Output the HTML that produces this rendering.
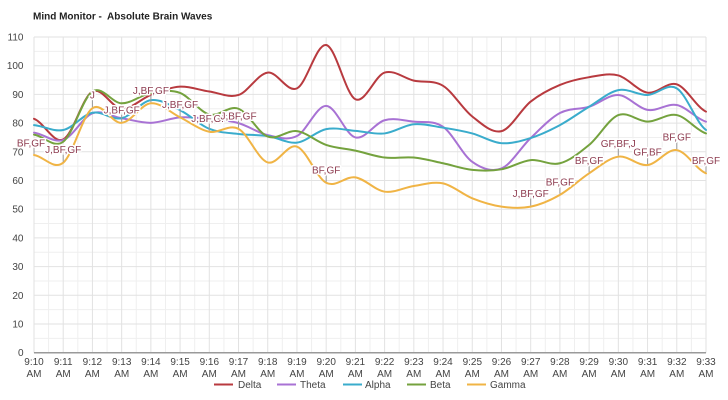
<!DOCTYPE html>
<html><head><meta charset="utf-8"><style>
html,body{margin:0;padding:0;background:#fff;}
svg{display:block;font-family:"Liberation Sans",Arial,sans-serif;}
.ax{font-size:10px;fill:#444;}
.an{font-size:10px;fill:#8e3c50;stroke:#fff;stroke-width:3px;paint-order:stroke;stroke-linejoin:round;}
</style></head><body>
<svg width="728" height="400" viewBox="0 0 728 400" xmlns="http://www.w3.org/2000/svg">
<rect width="728" height="400" fill="#fff"/>
<text x="33" y="19.5" style="font-size:10px;font-weight:bold;fill:#222;white-space:pre" xml:space="preserve">Mind Monitor -  Absolute Brain Waves</text>

<g transform="translate(34,352.7) scale(29.217,-2.87)">
<!-- minor grid -->
<path vector-effect="non-scaling-stroke" stroke="#efefef" stroke-width="1" fill="none" d="M0 5H23M0 15H23M0 25H23M0 35H23M0 45H23M0 55H23M0 65H23M0 75H23M0 85H23M0 95H23M0 105H23
M0.5 0V110M1.5 0V110M2.5 0V110M3.5 0V110M4.5 0V110M5.5 0V110M6.5 0V110M7.5 0V110M8.5 0V110M9.5 0V110M10.5 0V110M11.5 0V110M12.5 0V110M13.5 0V110M14.5 0V110M15.5 0V110M16.5 0V110M17.5 0V110M18.5 0V110M19.5 0V110M20.5 0V110M21.5 0V110M22.5 0V110"/>
<!-- major grid -->
<path vector-effect="non-scaling-stroke" stroke="#e2e2e2" stroke-width="1" fill="none" d="M0 10H23M0 20H23M0 30H23M0 40H23M0 50H23M0 60H23M0 70H23M0 80H23M0 90H23M0 100H23M0 110H23
M0 0V110M1 0V110M2 0V110M3 0V110M4 0V110M5 0V110M6 0V110M7 0V110M8 0V110M9 0V110M10 0V110M11 0V110M12 0V110M13 0V110M14 0V110M15 0V110M16 0V110M17 0V110M18 0V110M19 0V110M20 0V110M21 0V110M22 0V110M23 0V110"/>
<path vector-effect="non-scaling-stroke" stroke="#9a9a9a" stroke-width="1.5" fill="none" d="M0 0H23"/>

<g fill="none" stroke-width="2" stroke-linejoin="round" stroke-linecap="round">
<!-- Delta -->
<path vector-effect="non-scaling-stroke" stroke="#b83a3f" d="M0 81.5C0.333 80.3 0.667 72.72 1 74.3S1.667 89.22 2 91S2.667 85.2 3 85S3.667 88.52 4 89.8S4.667 92.5 5 92.7S5.667 91.48 6 91S6.667 88.7 7 89.8S7.667 97.22 8 97.6S8.667 90.5 9 92.1S9.667 107.83 10 107.2S10.667 89.9 11 88.3S11.667 96.52 12 97.6S12.667 95.57 13 94.8S13.667 95.08 14 93S14.667 84.93 15 82.3S15.667 76.33 16 77.2S16.667 84.82 17 87.5S17.667 91.88 18 93.3S18.667 95.45 19 96S19.667 97.5 20 96.6S20.667 91.12 21 90.6S21.667 94.6 22 93.5S22.667 85.58 23 84"/>
<!-- Theta -->
<path vector-effect="non-scaling-stroke" stroke="#a872d4" d="M0 76.7C0.333 76.27 0.667 72.98 1 74.1S1.667 82.13 2 83.4S2.667 82.25 3 81.7S3.667 80.05 4 80.1S4.667 81.77 5 82S5.667 81.83 6 81.5S6.667 80.95 7 80S7.667 76.55 8 75.8S8.667 73.8 9 75.5S9.667 86.08 10 86S10.667 75.83 11 75S11.667 80.08 12 81S12.667 80.88 13 80.5S13.667 81.03 14 78.7S14.667 68.92 15 66.5S15.667 62.82 16 64.2S16.667 71.58 17 74.8S17.667 81.68 18 83.5S18.667 84.65 19 85.7S19.667 89.98 20 89.8S20.667 85.18 21 84.6S21.667 86.98 22 86.3S22.667 81.47 23 80.5"/>
<!-- Alpha -->
<path vector-effect="non-scaling-stroke" stroke="#3aaccc" d="M0 79.3C0.333 79.02 0.667 76.88 1 77.6S1.667 82.92 2 83.6S2.667 80.97 3 81.7S3.667 87.53 4 88S4.667 86.17 5 84.5S5.667 79.38 6 78S6.667 76.62 7 76.2S7.667 76 8 75.5S8.667 72.8 9 73.2S9.667 77.22 10 77.9S10.667 77.55 11 77.3S11.667 76.02 12 76.4S12.667 79.27 13 79.6S13.667 78.93 14 78.4S14.667 77.3 15 76.4S15.667 73.27 16 73S16.667 73.75 17 74.8S17.667 77.48 18 79.3S18.667 83.67 19 85.7S19.667 90.82 20 91.5S20.667 89.7 21 89.8S21.667 94.13 22 92.1S22.667 80.02 23 77.6"/>
<!-- Beta -->
<path vector-effect="non-scaling-stroke" stroke="#74a23e" d="M0 76C0.333 75.58 0.667 71 1 73.5S1.667 88.77 2 91S2.667 86.98 3 86.9S3.667 89.9 4 90.5S4.667 91.75 5 90.5S5.667 83.92 6 83S6.667 86.28 7 85S7.667 76.6 8 75.3S8.667 77.68 9 77.2S9.667 73.53 10 72.4S10.667 71.13 11 70.4S11.667 68.4 12 68S12.667 68.33 13 68S13.667 66.72 14 66S14.667 64.05 15 63.7S15.667 63.33 16 63.9S16.667 66.75 17 67.1S17.667 65.12 18 66S18.667 69.6 19 72.4S19.667 81.45 20 82.8S20.667 80.5 21 80.5S21.667 83.48 22 82.8S22.667 77.47 23 76.4"/>
<!-- Gamma -->
<path vector-effect="non-scaling-stroke" stroke="#f0b445" d="M0 68.9C0.333 68.45 0.667 63.48 1 66.2S1.667 82.88 2 85.2S2.667 79.82 3 80.1S3.667 86.58 4 86.9S4.667 83.65 5 82S5.667 77.67 6 77S6.667 79.78 7 78S7.667 67.33 8 66.3S8.667 72.98 9 71.8S9.667 60.98 10 59.2S10.667 61.62 11 61.1S11.667 56.6 12 56.1S12.667 57.62 13 58.1S13.667 59.72 14 59S14.667 55.15 15 53.8S15.667 51.38 16 50.9S16.667 50.22 17 50.9S17.667 53.07 18 55S18.667 60.28 19 62.5S19.667 67.82 20 68.3S20.667 65.02 21 65.4S21.667 71.08 22 70.6S22.667 63.85 23 62.5"/>
</g>
</g>

<!-- annotation stems -->
<g stroke="#999" stroke-width="1">
<line x1="34" y1="154" x2="34" y2="147"/>
<line x1="63.2" y1="161.7" x2="63.2" y2="154.7"/>
<line x1="92.4" y1="107.2" x2="92.4" y2="100.2"/>
<line x1="121.7" y1="121.8" x2="121.7" y2="114.8"/>
<line x1="150.9" y1="102.3" x2="150.9" y2="95.3"/>
<line x1="180.1" y1="116.4" x2="180.1" y2="109.4"/>
<line x1="209.3" y1="130.7" x2="209.3" y2="123.7"/>
<line x1="238.5" y1="127.8" x2="238.5" y2="120.8"/>
<line x1="326.2" y1="181.8" x2="326.2" y2="174.8"/>
<line x1="530.7" y1="205.6" x2="530.7" y2="198.6"/>
<line x1="559.9" y1="193.8" x2="559.9" y2="186.8"/>
<line x1="589.1" y1="172.3" x2="589.1" y2="165.3"/>
<line x1="618.3" y1="155.7" x2="618.3" y2="148.7"/>
<line x1="647.6" y1="164" x2="647.6" y2="157"/>
<line x1="676.8" y1="149.1" x2="676.8" y2="142.1"/>
<line x1="706" y1="172.3" x2="706" y2="165.3"/>
</g>
<!-- annotations -->
<g text-anchor="middle">
<text class="an" x="31" y="146.5">BF,GF</text>
<text class="an" x="63.2" y="153.2">J,BF,GF</text>
<text class="an" x="92.4" y="98.7">J</text>
<text class="an" x="121.7" y="113.3">J,BF,GF</text>
<text class="an" x="150.9" y="93.8">J,BF,GF</text>
<text class="an" x="180.1" y="107.9">J,BF,GF</text>
<text class="an" x="209.3" y="122.2">J,BF,GF</text>
<text class="an" x="238.5" y="119.3">J,BF,GF</text>
<text class="an" x="326.2" y="173.3">BF,GF</text>
<text class="an" x="530.7" y="197.1">J,BF,GF</text>
<text class="an" x="559.9" y="185.3">BF,GF</text>
<text class="an" x="589.1" y="163.8">BF,GF</text>
<text class="an" x="618.3" y="147.2">GF,BF,J</text>
<text class="an" x="647.6" y="155.5">GF,BF</text>
<text class="an" x="676.8" y="140.6">BF,GF</text>
<text class="an" x="706" y="163.8">BF,GF</text>
</g>

<!-- y axis labels -->
<g class="ax" text-anchor="end">
<text x="23.5" y="356">0</text>
<text x="23.5" y="327.5">10</text>
<text x="23.5" y="298.8">20</text>
<text x="23.5" y="270.1">30</text>
<text x="23.5" y="241.4">40</text>
<text x="23.5" y="212.7">50</text>
<text x="23.5" y="184">60</text>
<text x="23.5" y="155.3">70</text>
<text x="23.5" y="126.6">80</text>
<text x="23.5" y="97.9">90</text>
<text x="23.5" y="69.2">100</text>
<text x="23.5" y="40.5">110</text>
</g>

<!-- x axis labels -->
<g class="ax" text-anchor="middle">
<text x="34" y="365">9:10</text><text x="34" y="377">AM</text>
<text x="63.2" y="365">9:11</text><text x="63.2" y="377">AM</text>
<text x="92.4" y="365">9:12</text><text x="92.4" y="377">AM</text>
<text x="121.7" y="365">9:13</text><text x="121.7" y="377">AM</text>
<text x="150.9" y="365">9:14</text><text x="150.9" y="377">AM</text>
<text x="180.1" y="365">9:15</text><text x="180.1" y="377">AM</text>
<text x="209.3" y="365">9:16</text><text x="209.3" y="377">AM</text>
<text x="238.5" y="365">9:17</text><text x="238.5" y="377">AM</text>
<text x="267.7" y="365">9:18</text><text x="267.7" y="377">AM</text>
<text x="297" y="365">9:19</text><text x="297" y="377">AM</text>
<text x="326.2" y="365">9:20</text><text x="326.2" y="377">AM</text>
<text x="355.4" y="365">9:21</text><text x="355.4" y="377">AM</text>
<text x="384.6" y="365">9:22</text><text x="384.6" y="377">AM</text>
<text x="413.8" y="365">9:23</text><text x="413.8" y="377">AM</text>
<text x="443" y="365">9:24</text><text x="443" y="377">AM</text>
<text x="472.3" y="365">9:25</text><text x="472.3" y="377">AM</text>
<text x="501.5" y="365">9:26</text><text x="501.5" y="377">AM</text>
<text x="530.7" y="365">9:27</text><text x="530.7" y="377">AM</text>
<text x="559.9" y="365">9:28</text><text x="559.9" y="377">AM</text>
<text x="589.1" y="365">9:29</text><text x="589.1" y="377">AM</text>
<text x="618.3" y="365">9:30</text><text x="618.3" y="377">AM</text>
<text x="647.6" y="365">9:31</text><text x="647.6" y="377">AM</text>
<text x="676.8" y="365">9:32</text><text x="676.8" y="377">AM</text>
<text x="706" y="365">9:33</text><text x="706" y="377">AM</text>
</g>

<!-- legend -->
<g stroke-width="2">
<line x1="214" y1="384.5" x2="233" y2="384.5" stroke="#b83a3f"/>
<line x1="277" y1="384.5" x2="296" y2="384.5" stroke="#a872d4"/>
<line x1="343" y1="384.5" x2="362" y2="384.5" stroke="#3aaccc"/>
<line x1="407" y1="384.5" x2="426" y2="384.5" stroke="#74a23e"/>
<line x1="467" y1="384.5" x2="486" y2="384.5" stroke="#f0b445"/>
</g>
<g class="ax">
<text x="238" y="388">Delta</text>
<text x="300" y="388">Theta</text>
<text x="365" y="388">Alpha</text>
<text x="430" y="388">Beta</text>
<text x="490" y="388">Gamma</text>
</g>
</svg>
</body></html>
